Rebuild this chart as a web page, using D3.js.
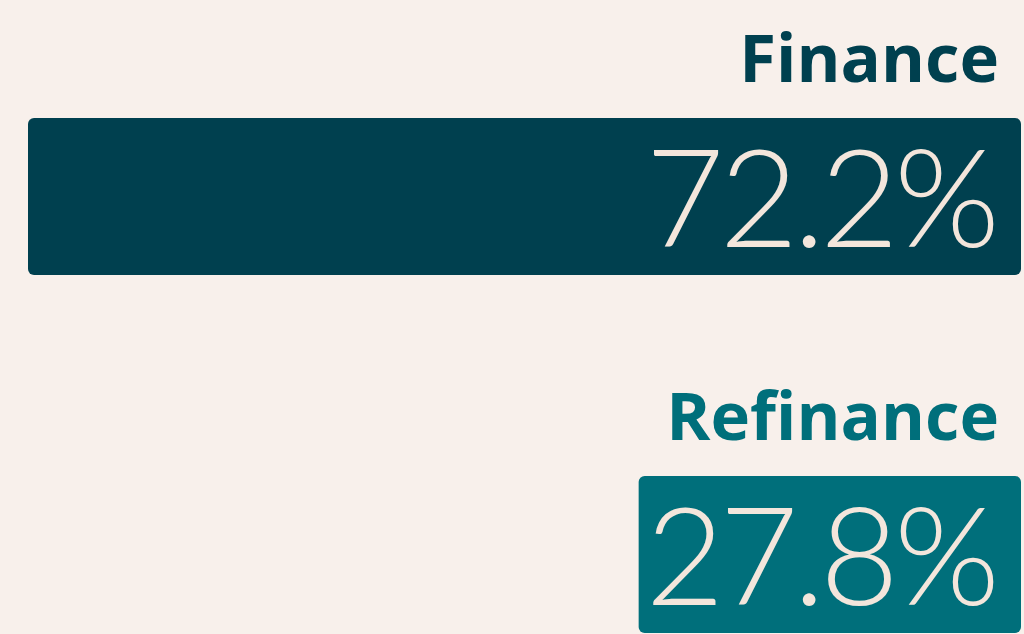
<!DOCTYPE html>
<html>
<head>
<meta charset="utf-8">
<script src="https://cdn.jsdelivr.net/npm/d3@7"></script>
<style>
  html, body { margin: 0; padding: 0; background: #f8f0eb; }
  svg { display: block; }
</style>
</head>
<body>
<div id="chart"></div>
<script>
// data
var categories = ["Finance", "Refinance"];
var shares = [72.2, 27.8];
var barColors = ["#00404f", "#006f7b"];

var width = 1024, height = 634;
var right = 1021, barH = 157;

var svg = d3.select("#chart").append("svg")
    .attr("width", width)
    .attr("height", height);

svg.append("rect").attr("width", width).attr("height", height).attr("fill", "#f8f0eb");

// bar length scale, bars grow leftwards from the right edge
var x = d3.scaleLinear()
    .domain([0, d3.max(shares)])
    .range([0, 993]);

// row positions
var y = d3.scaleBand()
    .domain(categories)
    .range([118, 476 + barH + 201])
    .paddingInner(0);

var rows = svg.selectAll("g.row")
    .data(categories)
    .enter().append("g")
    .attr("class", "row")
    .attr("transform", function(d) { return "translate(0," + y(d) + ")"; });

rows.append("text")
    .attr("x", right - 22)
    .attr("y", -36)
    .attr("text-anchor", "end")
    .attr("fill", function(d, i) { return barColors[i]; })
    .style("font-family", "Open Sans")
    .style("font-weight", 700)
    .style("font-size", "67px")
    .style("letter-spacing", "0px")
    .text(function(d) { return d; });

rows.append("rect")
    .attr("x", function(d, i) { return right - x(shares[i]); })
    .attr("y", 0)
    .attr("width", function(d, i) { return x(shares[i]); })
    .attr("height", barH)
    .attr("rx", 6)
    .attr("fill", function(d, i) { return barColors[i]; });

rows.append("text")
    .attr("x", right - 26)
    .attr("y", 129)
    .attr("text-anchor", "end")
    .attr("fill", "#f3e6dc")
    .style("font-family", "Lato")
    .style("font-weight", 300)
    .style("font-size", "136px")
    .style("letter-spacing", "-5px")
    .text(function(d, i) { return shares[i].toFixed(1) + "%"; });
</script>
</body>
</html>
